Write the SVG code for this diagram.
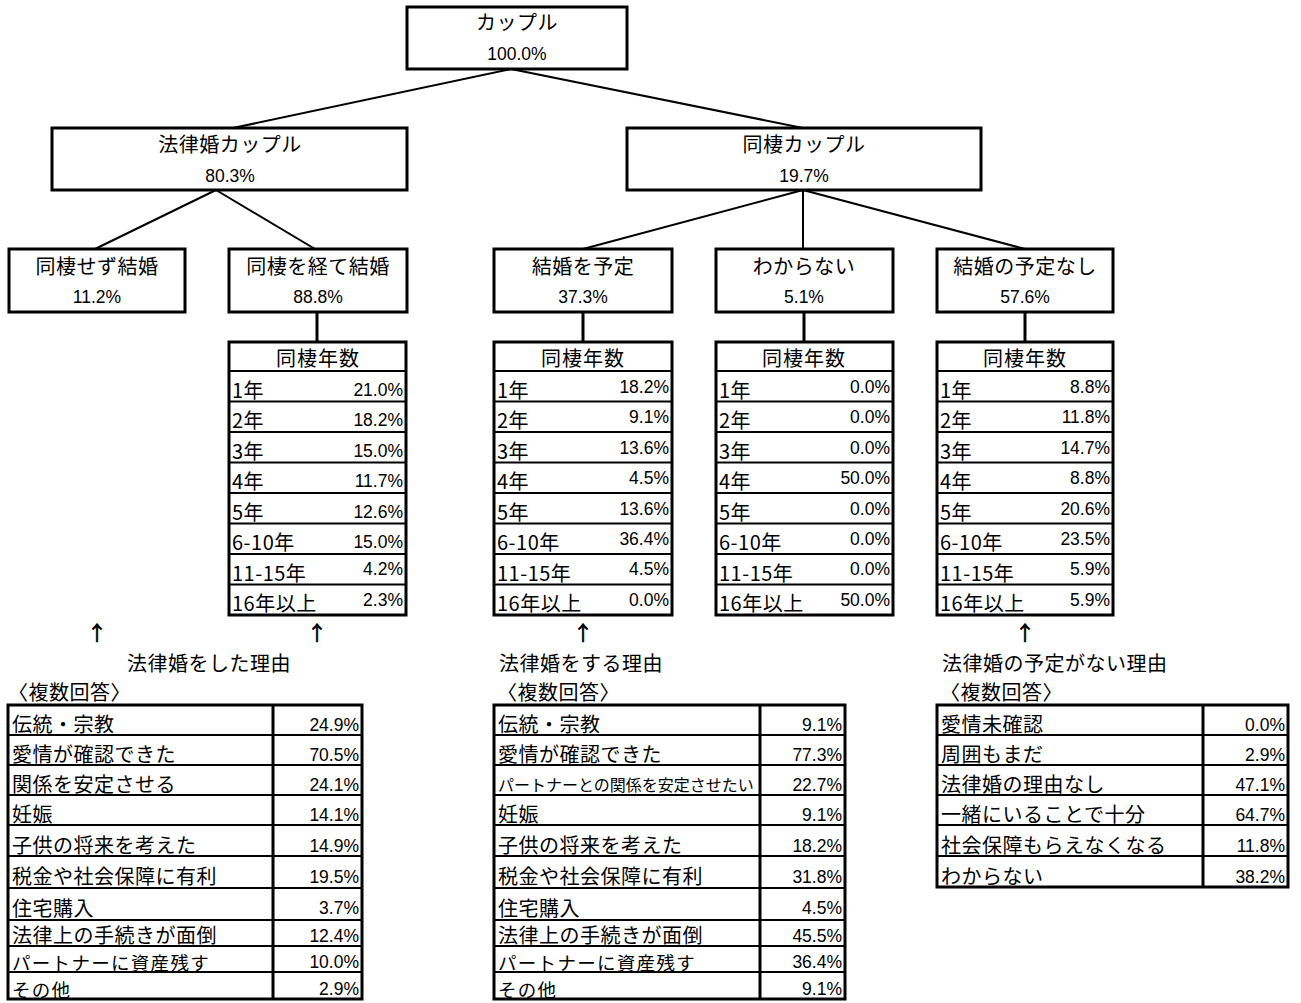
<svg xmlns="http://www.w3.org/2000/svg" width="1301" height="1003" viewBox="0 0 1301 1003">
<style>
text{font-family:"Noto Sans CJK JP","Liberation Sans",sans-serif;fill:#000}
.jp{font-size:20px;letter-spacing:0.5px}
.jps{font-size:18.5px;letter-spacing:1.3px}
.hd{font-size:20px;letter-spacing:1px;text-anchor:middle}
.num{font-family:"Liberation Sans","Noto Sans CJK JP",sans-serif;font-size:17.5px}
.c{text-anchor:middle}
.r{text-anchor:end}
.arr{font-family:"Noto Sans CJK JP",sans-serif;font-size:20px;text-anchor:middle;fill:#000;stroke:#000;stroke-width:0.7}
.box{fill:#fff;stroke:#000;stroke-width:3}
.cell{fill:none;stroke:#000;stroke-width:2}
.edge{stroke:#000;stroke-width:2;fill:none}
.thick{stroke:#000;stroke-width:3;fill:none}
.small{font-size:16px}
</style>
<rect width="1301" height="1003" fill="#fff"/>
<g id="connectors">
<line class="edge" x1="511" y1="69" x2="233" y2="128"/>
<line class="edge" x1="511" y1="69" x2="803" y2="128"/>
<line class="edge" x1="216" y1="190" x2="95" y2="249"/>
<line class="edge" x1="216" y1="190" x2="315" y2="249"/>
<line class="edge" x1="803" y1="190" x2="583" y2="249"/>
<line class="edge" x1="803" y1="190" x2="803" y2="249"/>
<line class="edge" x1="803" y1="190" x2="1025" y2="249"/>
<line class="thick" x1="317" y1="312" x2="317" y2="342"/>
<line class="thick" x1="583" y1="312" x2="583" y2="342"/>
<line class="thick" x1="804" y1="312" x2="804" y2="342"/>
<line class="thick" x1="1025" y1="312" x2="1025" y2="342"/>
<text class="arr" x="97" y="641">↑</text>
<text class="arr" x="317" y="641">↑</text>
<text class="arr" x="583" y="641">↑</text>
<text class="arr" x="1025" y="641">↑</text>
</g>
<g id="n-root"><rect class="box" x="407" y="7" width="220" height="62"/><text class="jp c" x="517" y="30">カップル</text><text class="num c" x="517" y="60">100.0%</text></g>
<g id="n-legal"><rect class="box" x="52" y="128" width="355" height="62"/><text class="jp c" x="230" y="152">法律婚カップル</text><text class="num c" x="230" y="182">80.3%</text></g>
<g id="n-cohab"><rect class="box" x="627" y="128" width="354" height="62"/><text class="jp c" x="804" y="152">同棲カップル</text><text class="num c" x="804" y="182">19.7%</text></g>
<g id="n-direct"><rect class="box" x="9" y="249" width="176" height="63"/><text class="jp c" x="97" y="274">同棲せず結婚</text><text class="num c" x="97" y="303">11.2%</text></g>
<g id="n-via"><rect class="box" x="229" y="249" width="178" height="63"/><text class="jp c" x="318" y="274">同棲を経て結婚</text><text class="num c" x="318" y="303">88.8%</text></g>
<g id="n-plan"><rect class="box" x="494" y="249" width="178" height="63"/><text class="jp c" x="583" y="274">結婚を予定</text><text class="num c" x="583" y="303">37.3%</text></g>
<g id="n-unknown"><rect class="box" x="716" y="249" width="177" height="63"/><text class="jp c" x="804" y="274">わからない</text><text class="num c" x="804" y="303">5.1%</text></g>
<g id="n-noplan"><rect class="box" x="937" y="249" width="176" height="63"/><text class="jp c" x="1025" y="274">結婚の予定なし</text><text class="num c" x="1025" y="303">57.6%</text></g>

<g id="t-years-1">
<rect class="box" x="229" y="342" width="177" height="273"/>
<path class="cell" d="M229 371H406M229 401.5H406M229 432H406M229 462.5H406M229 493H406M229 523.5H406M229 554H406M229 584.5H406"/>
<text class="hd" x="318" y="366">同棲年数</text>
<text class="jp" x="232" y="397.5">1年</text><text class="num r" x="403" y="396">21.0%</text>
<text class="jp" x="232" y="428">2年</text><text class="num r" x="403" y="426">18.2%</text>
<text class="jp" x="232" y="458.5">3年</text><text class="num r" x="403" y="457">15.0%</text>
<text class="jp" x="232" y="489">4年</text><text class="num r" x="403" y="487">11.7%</text>
<text class="jp" x="232" y="519.5">5年</text><text class="num r" x="403" y="518">12.6%</text>
<text class="jp" x="232" y="550">6-10年</text><text class="num r" x="403" y="548">15.0%</text>
<text class="jp" x="232" y="580.5">11-15年</text><text class="num r" x="403" y="575">4.2%</text>
<text class="jp" x="232" y="611">16年以上</text><text class="num r" x="403" y="606">2.3%</text>
</g>
<g id="t-years-2">
<rect class="box" x="494" y="342" width="178" height="273"/>
<path class="cell" d="M494 371H672M494 401.5H672M494 432H672M494 462.5H672M494 493H672M494 523.5H672M494 554H672M494 584.5H672"/>
<text class="hd" x="583" y="366">同棲年数</text>
<text class="jp" x="497" y="397.5">1年</text><text class="num r" x="669" y="393">18.2%</text>
<text class="jp" x="497" y="428">2年</text><text class="num r" x="669" y="423">9.1%</text>
<text class="jp" x="497" y="458.5">3年</text><text class="num r" x="669" y="454">13.6%</text>
<text class="jp" x="497" y="489">4年</text><text class="num r" x="669" y="484">4.5%</text>
<text class="jp" x="497" y="519.5">5年</text><text class="num r" x="669" y="515">13.6%</text>
<text class="jp" x="497" y="550">6-10年</text><text class="num r" x="669" y="545">36.4%</text>
<text class="jp" x="497" y="580.5">11-15年</text><text class="num r" x="669" y="575">4.5%</text>
<text class="jp" x="497" y="611">16年以上</text><text class="num r" x="669" y="606">0.0%</text>
</g>
<g id="t-years-3">
<rect class="box" x="716" y="342" width="177" height="273"/>
<path class="cell" d="M716 371H893M716 401.5H893M716 432H893M716 462.5H893M716 493H893M716 523.5H893M716 554H893M716 584.5H893"/>
<text class="hd" x="804" y="366">同棲年数</text>
<text class="jp" x="719" y="397.5">1年</text><text class="num r" x="890" y="393">0.0%</text>
<text class="jp" x="719" y="428">2年</text><text class="num r" x="890" y="423">0.0%</text>
<text class="jp" x="719" y="458.5">3年</text><text class="num r" x="890" y="454">0.0%</text>
<text class="jp" x="719" y="489">4年</text><text class="num r" x="890" y="484">50.0%</text>
<text class="jp" x="719" y="519.5">5年</text><text class="num r" x="890" y="515">0.0%</text>
<text class="jp" x="719" y="550">6-10年</text><text class="num r" x="890" y="545">0.0%</text>
<text class="jp" x="719" y="580.5">11-15年</text><text class="num r" x="890" y="575">0.0%</text>
<text class="jp" x="719" y="611">16年以上</text><text class="num r" x="890" y="606">50.0%</text>
</g>
<g id="t-years-4">
<rect class="box" x="937" y="342" width="176" height="273"/>
<path class="cell" d="M937 371H1113M937 401.5H1113M937 432H1113M937 462.5H1113M937 493H1113M937 523.5H1113M937 554H1113M937 584.5H1113"/>
<text class="hd" x="1025" y="366">同棲年数</text>
<text class="jp" x="940" y="397.5">1年</text><text class="num r" x="1110" y="393">8.8%</text>
<text class="jp" x="940" y="428">2年</text><text class="num r" x="1110" y="423">11.8%</text>
<text class="jp" x="940" y="458.5">3年</text><text class="num r" x="1110" y="454">14.7%</text>
<text class="jp" x="940" y="489">4年</text><text class="num r" x="1110" y="484">8.8%</text>
<text class="jp" x="940" y="519.5">5年</text><text class="num r" x="1110" y="515">20.6%</text>
<text class="jp" x="940" y="550">6-10年</text><text class="num r" x="1110" y="545">23.5%</text>
<text class="jp" x="940" y="580.5">11-15年</text><text class="num r" x="1110" y="575">5.9%</text>
<text class="jp" x="940" y="611">16年以上</text><text class="num r" x="1110" y="606">5.9%</text>
</g>

<g id="t-reasons-1">
<text class="jp" x="127" y="671">法律婚をした理由</text>
<text class="jp" x="8" y="700">〈複数回答〉</text>
<rect class="box" x="8" y="705" width="354" height="294"/>
<path class="cell" d="M8 735H362M8 765H362M8 795H362M8 825H362M8 856H362M8 888H362M8 920H362M8 946H362M8 972H362"/>
<line class="thick" x1="273" y1="705" x2="273" y2="999"/>
<text class="jp" x="12" y="732">伝統・宗教</text><text class="num r" x="359" y="731">24.9%</text>
<text class="jp" x="12" y="762">愛情が確認できた</text><text class="num r" x="359" y="761">70.5%</text>
<text class="jp" x="12" y="792">関係を安定させる</text><text class="num r" x="359" y="791">24.1%</text>
<text class="jp" x="12" y="822">妊娠</text><text class="num r" x="359" y="821">14.1%</text>
<text class="jp" x="12" y="853">子供の将来を考えた</text><text class="num r" x="359" y="852">14.9%</text>
<text class="jp" x="12" y="884">税金や社会保障に有利</text><text class="num r" x="359" y="883">19.5%</text>
<text class="jp" x="12" y="916">住宅購入</text><text class="num r" x="359" y="914">3.7%</text>
<text class="jp" x="12" y="943">法律上の手続きが面倒</text><text class="num r" x="359" y="942">12.4%</text>
<text class="jps" x="12" y="969.5">パートナーに資産残す</text><text class="num r" x="359" y="968">10.0%</text>
<text class="jps" x="12" y="997">その他</text><text class="num r" x="359" y="995">2.9%</text>
</g>
<g id="t-reasons-2">
<text class="jp" x="499" y="671">法律婚をする理由</text>
<text class="jp" x="497" y="700">〈複数回答〉</text>
<rect class="box" x="494" y="705" width="351" height="294"/>
<path class="cell" d="M494 735H845M494 765H845M494 795H845M494 825H845M494 856H845M494 888H845M494 920H845M494 946H845M494 972H845"/>
<line class="thick" x1="760" y1="705" x2="760" y2="999"/>
<text class="jp" x="498" y="732">伝統・宗教</text><text class="num r" x="842" y="731">9.1%</text>
<text class="jp" x="498" y="762">愛情が確認できた</text><text class="num r" x="842" y="761">77.3%</text>
<text class="jp small" x="498" y="791" style="letter-spacing:0">パートナーとの関係を安定させたい</text><text class="num r" x="842" y="791">22.7%</text>
<text class="jp" x="498" y="822">妊娠</text><text class="num r" x="842" y="821">9.1%</text>
<text class="jp" x="498" y="853">子供の将来を考えた</text><text class="num r" x="842" y="852">18.2%</text>
<text class="jp" x="498" y="884">税金や社会保障に有利</text><text class="num r" x="842" y="883">31.8%</text>
<text class="jp" x="498" y="916">住宅購入</text><text class="num r" x="842" y="914">4.5%</text>
<text class="jp" x="498" y="943">法律上の手続きが面倒</text><text class="num r" x="842" y="942">45.5%</text>
<text class="jps" x="498" y="969.5">パートナーに資産残す</text><text class="num r" x="842" y="968">36.4%</text>
<text class="jps" x="498" y="997">その他</text><text class="num r" x="842" y="995">9.1%</text>
</g>
<g id="t-reasons-3">
<text class="jp" x="942" y="671">法律婚の予定がない理由</text>
<text class="jp" x="940" y="700">〈複数回答〉</text>
<rect class="box" x="937" y="705" width="351" height="182"/>
<path class="cell" d="M937 735H1288M937 765H1288M937 795H1288M937 825H1288M937 856H1288"/>
<line class="thick" x1="1203" y1="705" x2="1203" y2="887"/>
<text class="jp" x="941" y="732">愛情未確認</text><text class="num r" x="1285" y="731">0.0%</text>
<text class="jp" x="941" y="762">周囲もまだ</text><text class="num r" x="1285" y="761">2.9%</text>
<text class="jp" x="941" y="792">法律婚の理由なし</text><text class="num r" x="1285" y="791">47.1%</text>
<text class="jp" x="941" y="822">一緒にいることで十分</text><text class="num r" x="1285" y="821">64.7%</text>
<text class="jp" x="941" y="853">社会保障もらえなくなる</text><text class="num r" x="1285" y="852">11.8%</text>
<text class="jp" x="941" y="884">わからない</text><text class="num r" x="1285" y="883">38.2%</text>
</g>
</svg>
